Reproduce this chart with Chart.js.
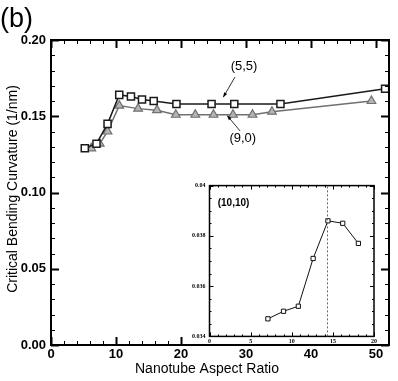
<!DOCTYPE html>
<html>
<head>
<meta charset="utf-8">
<script src="https://cdn.jsdelivr.net/npm/chart.js@4.4.0/dist/chart.umd.min.js"></script>
<style>
  body { margin: 0; background: #fff; }
  #wrap { position: relative; width: 398px; height: 381px; }
  #main { position: absolute; left: 0; top: 0; }
  #inset { position: absolute; left: 186px; top: 178px; background: #fff; }
</style>
</head>
<body>
<div id="wrap">
  <canvas id="main" width="398" height="381"></canvas>
  <canvas id="inset" width="193" height="166"></canvas>
</div>
<script>
// (5,5) tubes
var ratio55 = [5.2, 7.0, 8.7, 10.5, 12.3, 14.0, 15.8, 19.3, 24.7, 28.2, 35.3, 51.4];
var curv55 = [0.129, 0.132, 0.145, 0.164, 0.163, 0.161, 0.160, 0.158, 0.158, 0.158, 0.158, 0.168];
// (9,0) tubes
var ratio90 = [6.2, 7.5, 8.7, 10.5, 13.4, 16.3, 19.2, 22.2, 25.0, 28.0, 31.0, 34.0, 49.3];
var curv90 = [0.129, 0.132, 0.140, 0.157, 0.155, 0.154, 0.151, 0.151, 0.151, 0.151, 0.151, 0.153, 0.160];
// inset (10,10)
var ratio1010 = [7.1, 9.0, 10.8, 12.6, 14.4, 16.2, 18.1];
var curv1010 = [0.0347, 0.0350, 0.0352, 0.0371, 0.0386, 0.0385, 0.0377];
var insetMarkX = 14.3;

var xTickLabels = [0, 10, 20, 30, 40, 50];
var yTickLabels = [0, 0.05, 0.10, 0.15, 0.20];
var insetXTickLabels = [0, 5, 10, 15, 20];
var insetYTickLabels = [0.034, 0.036, 0.038, 0.04];

function pts(xs, ys) {
  return xs.map(function (x, i) { return { x: x, y: ys[i] }; });
}

// ticks pointing inward on all four sides + frame
var ticksInside = {
  id: "ticksInside",
  afterDraw: function (chart, args, o) {
    var ctx = chart.ctx, a = chart.chartArea, xs = chart.scales.x, ys = chart.scales.y;
    ctx.save();
    ctx.strokeStyle = "#000";
    function tick(v, major, horiz) {
      var len = major ? o.majorLen : o.minorLen;
      ctx.lineWidth = major ? o.majorW : 1;
      ctx.beginPath();
      if (horiz) {
        var p = Math.round(xs.getPixelForValue(v)) + 0.5;
        ctx.moveTo(p, a.bottom); ctx.lineTo(p, a.bottom - len);
        ctx.moveTo(p, a.top); ctx.lineTo(p, a.top + len);
      } else {
        var q = Math.round(ys.getPixelForValue(v)) + 0.5;
        ctx.moveTo(a.left, q); ctx.lineTo(a.left + len, q);
        ctx.moveTo(a.right, q); ctx.lineTo(a.right - len, q);
      }
      ctx.stroke();
    }
    var i, v;
    for (i = 0; ; i++) {
      v = xs.min + i * o.xMinor;
      if (v > xs.max + 1e-9) break;
      tick(v, Math.abs(v / o.xMajor - Math.round(v / o.xMajor)) < 1e-6, true);
    }
    for (i = 0; ; i++) {
      v = ys.min + i * o.yMinor;
      if (v > ys.max + 1e-9) break;
      tick(v, Math.abs((v - ys.min) / o.yMajor - Math.round((v - ys.min) / o.yMajor)) < 1e-6, false);
    }
    ctx.lineWidth = o.frameW;
    ctx.strokeRect(a.left, a.top, a.right - a.left, a.bottom - a.top);
    ctx.restore();
  }
};

function arrow(ctx, x1, y1, x2, y2) {
  ctx.beginPath();
  ctx.moveTo(x1, y1); ctx.lineTo(x2, y2);
  ctx.stroke();
  var ang = Math.atan2(y2 - y1, x2 - x1), s = 5;
  ctx.beginPath();
  ctx.moveTo(x2, y2);
  ctx.lineTo(x2 - s * Math.cos(ang - 0.35), y2 - s * Math.sin(ang - 0.35));
  ctx.lineTo(x2 - s * Math.cos(ang + 0.35), y2 - s * Math.sin(ang + 0.35));
  ctx.closePath();
  ctx.fill();
}

// titles, panel letter and series labels
var mainText = {
  id: "mainText",
  afterDraw: function (chart) {
    var ctx = chart.ctx, xs = chart.scales.x, ys = chart.scales.y;
    ctx.save();
    ctx.fillStyle = "#000";
    ctx.strokeStyle = "#333";
    ctx.lineWidth = 1;
    ctx.font = '27px "Liberation Sans", Arial, sans-serif';
    ctx.textAlign = "left";
    ctx.textBaseline = "alphabetic";
    ctx.fillText("(b)", 0, 27);

    ctx.font = '14px "Liberation Sans", Arial, sans-serif';
    ctx.textAlign = "center";
    ctx.textBaseline = "middle";
    ctx.fillText("Nanotube Aspect Ratio", 207, 369);
    ctx.save();
    ctx.translate(13, 189);
    ctx.rotate(-Math.PI / 2);
    ctx.fillText("Critical Bending Curvature (1/nm)", 0, 0);
    ctx.restore();

    ctx.font = '13px "Liberation Sans", Arial, sans-serif';
    ctx.fillText("(5,5)", xs.getPixelForValue(29.7), ys.getPixelForValue(0.183));
    ctx.fillText("(9,0)", xs.getPixelForValue(29.5), ys.getPixelForValue(0.1357));
    arrow(ctx, xs.getPixelForValue(28.3), ys.getPixelForValue(0.1757),
      xs.getPixelForValue(26.5), ys.getPixelForValue(0.1625));
    arrow(ctx, xs.getPixelForValue(29.1), ys.getPixelForValue(0.1403),
      xs.getPixelForValue(27.1), ys.getPixelForValue(0.1505));
    ctx.restore();
  }
};

var tickFont = { family: '"Liberation Sans", Arial, sans-serif', size: 13, weight: "bold" };

new Chart(document.getElementById("main"), {
  type: "line",
  data: {
    datasets: [
      {
        label: "(5,5)",
        data: pts(ratio55, curv55),
        borderColor: "#1a1a1a",
        borderWidth: 1.5,
        pointStyle: "rect",
        pointRadius: 5,
        pointBorderWidth: 1.5,
        pointBackgroundColor: "#fff",
        pointBorderColor: "#1a1a1a",
        tension: 0
      },
      {
        label: "(9,0)",
        data: pts(ratio90, curv90),
        borderColor: "#707070",
        borderWidth: 1.5,
        pointStyle: "triangle",
        pointRadius: 5,
        pointBorderWidth: 1.2,
        pointBackgroundColor: "#b4b4b4",
        pointBorderColor: "#707070",
        tension: 0
      }
    ]
  },
  options: {
    responsive: false,
    animation: false,
    devicePixelRatio: 1,
    layout: { padding: { top: 40, right: 9, left: 0, bottom: 0 } },
    plugins: {
      legend: { display: false },
      tooltip: { enabled: false },
      ticksInside: { xMinor: 2, xMajor: 10, yMinor: 0.01, yMajor: 0.05, majorLen: 8, minorLen: 4, majorW: 2, frameW: 2 }
    },
    scales: {
      x: {
        type: "linear",
        min: 0,
        max: 52,
        grid: { display: false, drawTicks: false },
        border: { display: false },
        afterBuildTicks: function (s) { s.ticks = xTickLabels.map(function (v) { return { value: v }; }); },
        ticks: { font: tickFont, color: "#000", padding: 2, maxRotation: 0 },
        afterFit: function (s) { s.height = 36; }
      },
      y: {
        type: "linear",
        min: 0,
        max: 0.2,
        grid: { display: false, drawTicks: false },
        border: { display: false },
        afterBuildTicks: function (s) { s.ticks = yTickLabels.map(function (v) { return { value: v }; }); },
        ticks: { font: tickFont, color: "#000", padding: 5, callback: function (v) { return v.toFixed(2); } },
        afterFit: function (s) { s.width = 51; }
      }
    }
  },
  plugins: [ticksInside, mainText]
});

// inset extras: dashed marker and label
var insetText = {
  id: "insetText",
  afterDraw: function (chart) {
    var ctx = chart.ctx, xs = chart.scales.x, ys = chart.scales.y, a = chart.chartArea;
    ctx.save();
    ctx.strokeStyle = "#666";
    ctx.lineWidth = 1;
    ctx.setLineDash([2, 2]);
    var px = Math.round(xs.getPixelForValue(insetMarkX)) + 0.5;
    ctx.beginPath();
    ctx.moveTo(px, a.bottom); ctx.lineTo(px, a.top);
    ctx.stroke();
    ctx.setLineDash([]);
    ctx.fillStyle = "#000";
    ctx.font = 'bold 10px "Liberation Sans", Arial, sans-serif';
    ctx.textAlign = "left";
    ctx.textBaseline = "middle";
    ctx.fillText("(10,10)", xs.getPixelForValue(1.0), ys.getPixelForValue(0.0393));
    ctx.restore();
  }
};

var insetFont = { family: '"Liberation Serif", "Times New Roman", serif', size: 6, weight: "bold" };

new Chart(document.getElementById("inset"), {
  type: "line",
  data: {
    datasets: [
      {
        label: "(10,10)",
        data: pts(ratio1010, curv1010),
        borderColor: "#111",
        borderWidth: 1,
        pointStyle: "rect",
        pointRadius: 3,
        pointBorderWidth: 1,
        pointBackgroundColor: "#fff",
        pointBorderColor: "#111",
        tension: 0
      }
    ]
  },
  options: {
    responsive: false,
    animation: false,
    devicePixelRatio: 1,
    layout: { padding: { top: 6, right: 2.5, left: 0, bottom: 0 } },
    plugins: {
      legend: { display: false },
      tooltip: { enabled: false },
      ticksInside: { xMinor: 1, xMajor: 5, yMinor: 0.0005, yMajor: 0.002, majorLen: 4, minorLen: 2, majorW: 1, frameW: 1.5 }
    },
    scales: {
      x: {
        type: "linear",
        min: 0,
        max: 20,
        grid: { display: false, drawTicks: false },
        border: { display: false },
        afterBuildTicks: function (s) { s.ticks = insetXTickLabels.map(function (v) { return { value: v }; }); },
        ticks: { font: insetFont, color: "#000", padding: 1, maxRotation: 0, autoSkip: false },
        afterFit: function (s) { s.height = 6.5; }
      },
      y: {
        type: "linear",
        min: 0.034,
        max: 0.04,
        grid: { display: false, drawTicks: false },
        border: { display: false },
        afterBuildTicks: function (s) { s.ticks = insetYTickLabels.map(function (v) { return { value: v }; }); },
        ticks: { font: insetFont, color: "#000", padding: 4, autoSkip: false, callback: function (v) { return String(+v.toFixed(3)); } },
        afterFit: function (s) { s.width = 23.5; }
      }
    }
  },
  plugins: [ticksInside, insetText]
});
</script>
</body>
</html>
